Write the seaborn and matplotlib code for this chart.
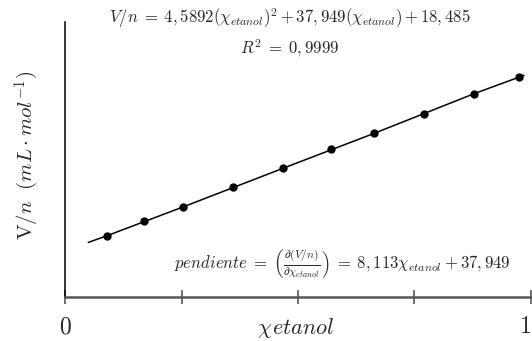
import matplotlib
matplotlib.use("Agg")
import matplotlib.pyplot as plt
import seaborn as sns
import pandas as pd

# data
x_etanol = [0.090, 0.170, 0.253, 0.361, 0.468, 0.570, 0.664, 0.771, 0.878, 0.974]
v_n = [21.9, 25.4, 28.8, 33.6, 38.1, 42.6, 46.5, 51.0, 56.0, 60.0]
# trend line
fit_x = [0.050, 0.090, 0.253, 0.468, 0.664, 0.878, 0.985]
fit_y = [20.3, 21.9, 28.8, 38.1, 46.5, 56.0, 60.4]
xtick_vals = [0, 0.25, 0.5, 0.75, 1]
xtick_labels = [r"$0$", "", "", "", r"$1$"]

sns.set_theme(style="white")
plt.rcParams["mathtext.fontset"] = "cm"
plt.rcParams["font.family"] = ["DejaVu Serif"]

df = pd.DataFrame({"x": x_etanol, "y": v_n})
dfit = pd.DataFrame({"x": fit_x, "y": fit_y})

fig = plt.figure(figsize=(5.32, 3.41), dpi=100)
ax = fig.add_axes([65 / 532, 44 / 341, (466 * 1.02) / 532, 275 / 341])

sns.lineplot(data=dfit, x="x", y="y", ax=ax, color="black", linewidth=1.1, sort=True)
sns.scatterplot(data=df, x="x", y="y", ax=ax, color="black", s=36,
                edgecolor="black", linewidth=0, zorder=3)

ax.set_xlim(0, 1.02)
ax.set_ylim(7.2, 73.2)
ax.set_xticks(xtick_vals)
ax.set_xticklabels(xtick_labels, fontsize=17)
ax.set_yticks([])
ax.tick_params(axis="x", bottom=True, direction="inout", length=10, width=1.2,
               color="#555555", pad=8)
# keep the right-hand "1" inside the picture
ax.get_xticklabels()[-1].set_horizontalalignment("right")

ax.spines["top"].set_visible(False)
ax.spines["right"].set_visible(False)
ax.spines["left"].set_color("black")
ax.spines["left"].set_linewidth(1.1)
ax.spines["bottom"].set_color("#555555")
ax.spines["bottom"].set_linewidth(1.8)

ax.set_xlabel(r"$\chi_{}etanol$", fontsize=16)
ax.xaxis.set_label_coords((296 - 65) / (466 * 1.02), -(328 - 297) / 275)
ax.xaxis.label.set_verticalalignment("center")
ax.set_ylabel(r"$\mathrm{V}/n\ \ (mL \cdot mol^{-1})$", fontsize=15)
ax.yaxis.set_label_coords(-(65 - 27) / (466 * 1.02), (297 - 155) / 275)
ax.yaxis.label.set_verticalalignment("center")

fig.text(290 / 532, 1 - 18 / 341,
         r"$V/n\;=\;4,5892(\chi_{etanol})^2 + 37,949(\chi_{etanol}) + 18,485$",
         ha="center", va="center", fontsize=12)
fig.text(290 / 532, 1 - 48 / 341, r"$R^2\;=\;0,9999$", ha="center", va="center", fontsize=12)
fig.text(342 / 532, 1 - 264 / 341,
         r"$pendiente\;=\;\left(\frac{\partial(V/n)}{\partial\chi_{etanol}}\right)\;=\;8,113\chi_{etanol} + 37,949$",
         ha="center", va="center", fontsize=12)

fig.savefig("out.png", dpi=100)
